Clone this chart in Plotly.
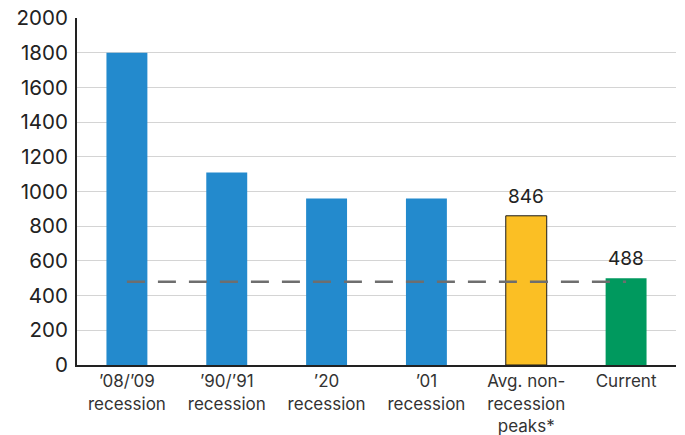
import plotly.graph_objects as go

categories = ["’08/’09<br>recession", "’90/’91<br>recession", "’20<br>recession",
              "’01<br>recession", "Avg. non-<br>recession<br>peaks*", "Current"]
values = [1800, 1110, 960, 960, 860, 500]
value_labels = ["", "", "", "", "846", "488"]
colors = ["#238ACD", "#238ACD", "#238ACD", "#238ACD", "#FBBF24", "#00995E"]
outline = ["rgba(0,0,0,0)"] * 4 + ["#1a1a1a", "rgba(0,0,0,0)"]
reference_level = 480
y_ticks = [0, 200, 400, 600, 800, 1000, 1200, 1400, 1600, 1800, 2000]

FONT = "Inter"

fig = go.Figure()
fig.add_trace(go.Bar(
    x=list(range(len(categories))), y=values,
    marker=dict(color=colors, line=dict(color=outline, width=1)),
    width=0.41, showlegend=False, hoverinfo="skip",
))
fig.add_trace(go.Scatter(
    x=[0, len(categories) - 1], y=[reference_level, reference_level],
    mode="lines", line=dict(color="#6e6e6e", width=2.5, dash="18px,13px"),
    showlegend=False, hoverinfo="skip",
))
for i, (v, t) in enumerate(zip(values, value_labels)):
    if t:
        fig.add_annotation(x=i, y=v, text=t, showarrow=False, yanchor="bottom",
                           yshift=6, font=dict(family=FONT, size=19, color="#222"))

fig.update_layout(
    width=685, height=435,
    margin=dict(l=77, r=9, t=18, b=70),
    plot_bgcolor="white", paper_bgcolor="white",
    font=dict(family=FONT, size=18, color="#222"),
)
fig.update_xaxes(
    tickmode="array", tickvals=list(range(len(categories))), ticktext=categories,
    range=[-0.5, len(categories) - 0.5], automargin=False,
    showline=True, linecolor="#222", linewidth=2, showgrid=False,
    ticks="", ticklabelstandoff=0, tickfont=dict(family=FONT, size=17, color="#333"),
)
fig.update_yaxes(
    range=[0, 2000], tickvals=y_ticks, automargin=False,
    showline=True, linecolor="#222", linewidth=2,
    showgrid=True, gridcolor="#d4d4d4", gridwidth=1,
    zeroline=False, ticks="", ticklabelstandoff=3,
    tickfont=dict(family=FONT, size=20.5, color="#222"),
)

fig.write_html("out.html")
